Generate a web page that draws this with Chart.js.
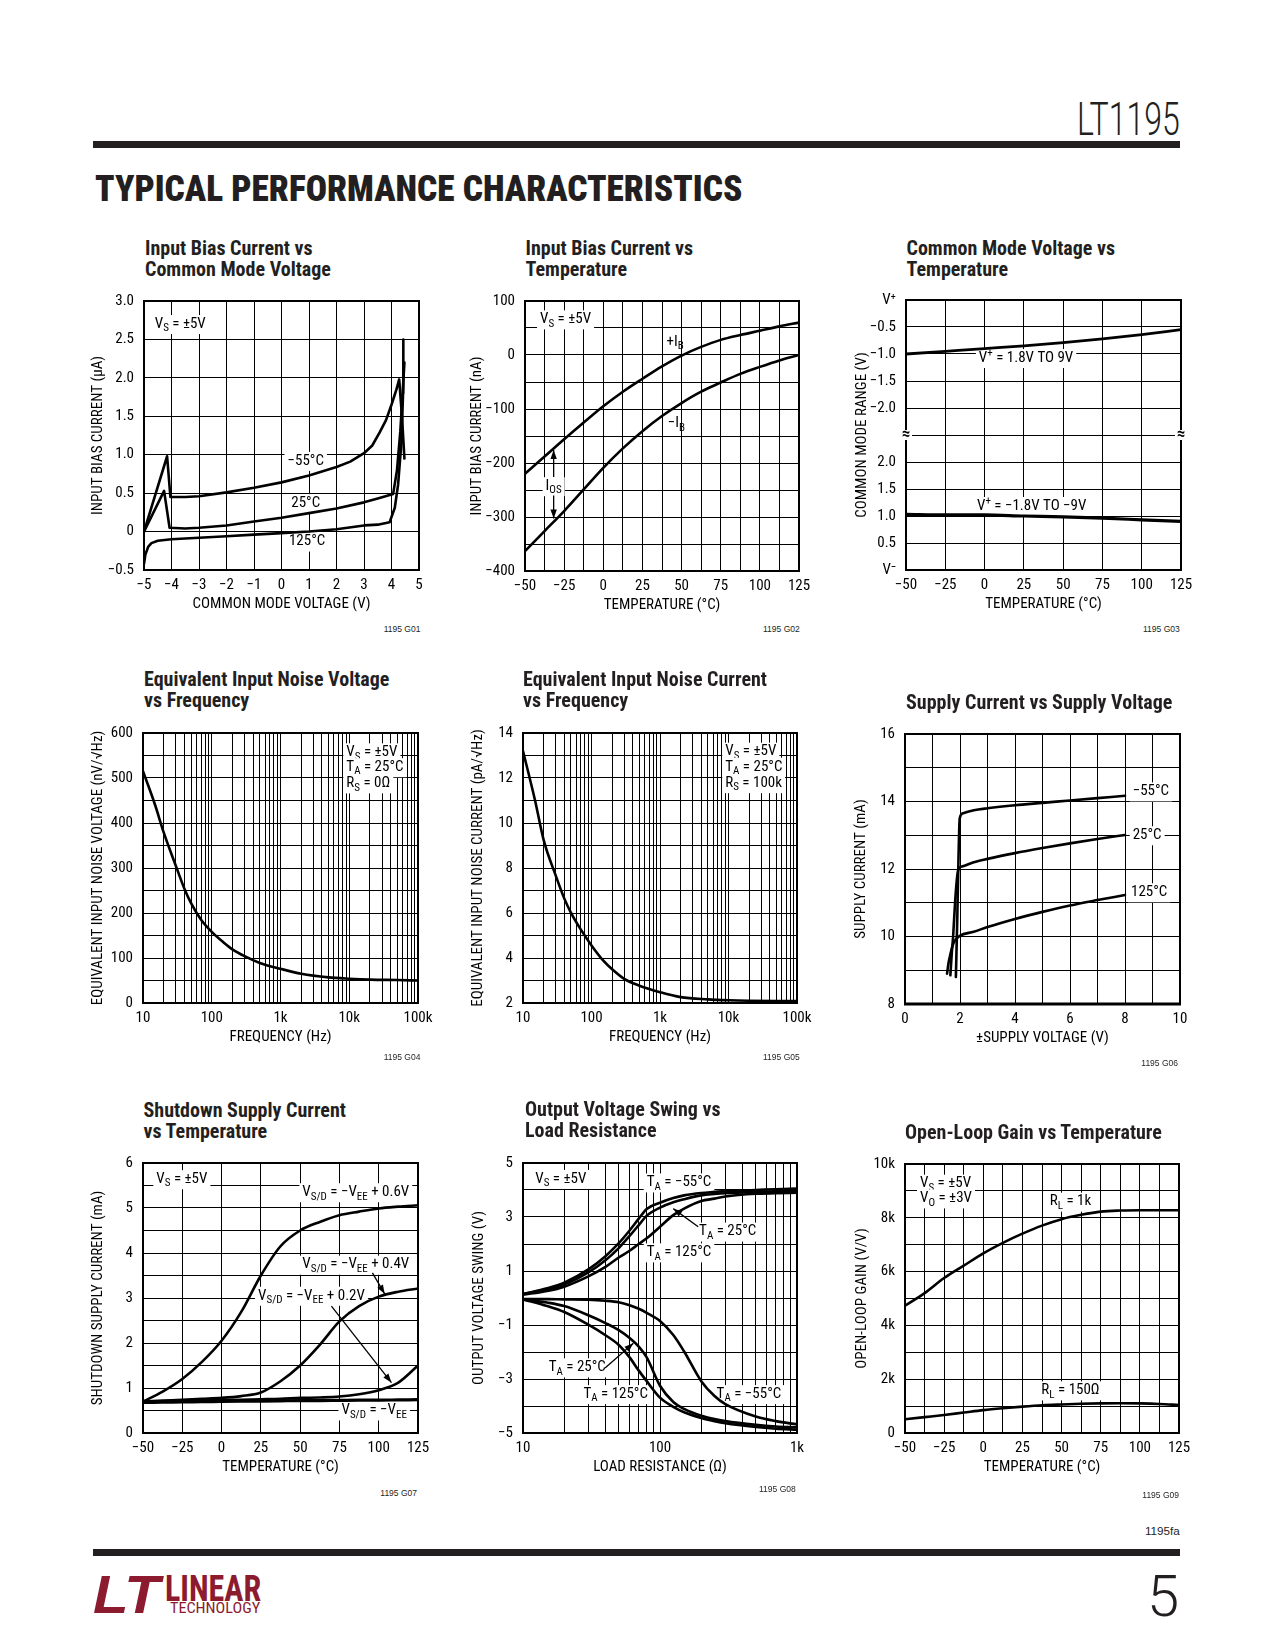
<!DOCTYPE html>
<html><head><meta charset="utf-8">
<script src="https://cdn.jsdelivr.net/npm/chart.js"></script>
<style>
html,body{margin:0;padding:0;background:#fff;}
body{width:1275px;height:1650px;position:relative;overflow:hidden;}
.abs{position:absolute;white-space:pre;color:#231f20;line-height:1;}
canvas{position:absolute;}
</style></head><body>
<script>
// ================= DATA =================
// G01 Input Bias Current vs Common Mode Voltage (x: V, y: uA)
const g01_m55_x = [-5, -4.16, -4.04, -3.5, -3, -2, -1, 0, 1, 2, 2.5, 3, 3.3, 3.57, 3.8, 4.0, 4.18, 4.28, 4.38, 4.47];
const g01_m55_y = [0, 0.98, 0.45, 0.45, 0.46, 0.51, 0.57, 0.64, 0.73, 0.84, 0.91, 1.02, 1.12, 1.29, 1.45, 1.65, 1.85, 1.98, 1.5, 0.95];
const g01_25_x = [-5, -4.27, -4.07, -3.5, -3, -2, -1, 0, 1, 2, 3, 3.5, 4.06, 4.2, 4.32, 4.42, 4.47];
const g01_25_y = [0, 0.53, 0.05, 0.04, 0.05, 0.08, 0.13, 0.18, 0.24, 0.3, 0.38, 0.43, 0.49, 0.8, 1.3, 1.9, 2.2];
const g01_125_x = [-5, -4.95, -4.85, -4.73, -4.5, -4, -3, -2, -1, 0, 1, 2, 3, 3.5, 3.93, 4.12, 4.24, 4.36, 4.42, 4.43];
const g01_125_y = [-0.42, -0.3, -0.2, -0.15, -0.12, -0.1, -0.08, -0.06, -0.04, -0.02, 0.0, 0.03, 0.08, 0.09, 0.12, 0.31, 0.61, 1.16, 1.8, 2.5];

// G02 Input Bias Current vs Temperature (nA)
const g02_T = [-50, -37.5, -25, -12.5, 0, 12.5, 25, 37.5, 50, 62.5, 75, 87.5, 100, 112.5, 125];
const g02_plusIB = [-220, -188, -156, -125, -95, -68, -44, -21, -1, 15, 28, 37, 45, 53, 60];
const g02_minusIB = [-363, -326, -289, -249, -209, -173, -141, -113, -89, -68, -51, -35, -22, -10, 0];

// G03 Common Mode Voltage vs Temperature
const g03_T = [-50, -25, 0, 25, 50, 75, 100, 125];
const g03_upper = [-1.0, -0.95, -0.9, -0.85, -0.79, -0.72, -0.64, -0.55];   // V from V+
const g03_lower = [1.03, 1.02, 1.02, 1.0, 0.985, 0.96, 0.93, 0.9];          // V from V-
const g03_yLabels = ['V\u207B', '0.5', '1.0', '1.5', '2.0', '', '\u22122.0', '\u22121.5', '\u22121.0', '\u22120.5', 'V\u207A'];

// G04 Equivalent Input Noise Voltage vs Frequency
const g04_f = [10, 15, 20, 30, 40, 50, 70, 100, 150, 200, 300, 500, 1000, 2000, 5000, 10000, 20000, 50000, 100000];
const g04_en = [515, 440, 379, 305, 254, 222, 185, 158, 134, 119, 104, 89, 76, 65, 57, 54, 52, 51, 50];

// G05 Equivalent Input Noise Current vs Frequency
const g05_f = [10, 15, 20, 30, 40, 50, 70, 100, 150, 200, 300, 500, 1000, 2000, 5000, 10000, 20000, 50000, 100000];
const g05_in = [13.2, 11.0, 9.25, 7.67, 6.65, 6.02, 5.26, 4.56, 3.87, 3.5, 3.07, 2.77, 2.48, 2.26, 2.16, 2.12, 2.1, 2.09, 2.09];

// G06 Supply Current vs Supply Voltage
const g06_m55_x = [1.85, 1.9, 1.95, 1.99, 2.1, 2.5, 3, 4, 5, 6, 7, 8];
const g06_m55_y = [8.8, 10.5, 12.5, 13.5, 13.65, 13.74, 13.8, 13.89, 13.96, 14.03, 14.1, 14.17];
const g06_25_x = [1.65, 1.7, 1.75, 1.82, 1.9, 1.95, 2.1, 2.5, 3, 4, 5, 6, 7, 8];
const g06_25_y = [8.85, 9.5, 10.0, 11.0, 11.8, 12.0, 12.08, 12.2, 12.3, 12.47, 12.62, 12.76, 12.89, 13.01];
const g06_125_x = [1.53, 1.58, 1.63, 1.72, 1.81, 1.99, 2.5, 3, 4, 5, 6, 7, 8];
const g06_125_y = [8.9, 9.2, 9.4, 9.7, 9.88, 10.02, 10.14, 10.28, 10.52, 10.73, 10.92, 11.08, 11.23];

// G07 Shutdown Supply Current vs Temperature (mA)
const g07_T = [-50, -37.5, -25, -12.5, 0, 12.5, 25, 37.5, 50, 62.5, 75, 87.5, 100, 112.5, 125];
const g07_06V = [0.7, 0.92, 1.2, 1.58, 2.05, 2.69, 3.5, 4.15, 4.5, 4.69, 4.84, 4.92, 4.99, 5.03, 5.06];
const g07_04V = [0.7, 0.72, 0.74, 0.76, 0.78, 0.82, 0.9, 1.15, 1.5, 1.96, 2.48, 2.82, 3.03, 3.14, 3.21];
const g07_02V = [0.69, 0.7, 0.71, 0.72, 0.73, 0.74, 0.75, 0.76, 0.78, 0.79, 0.81, 0.86, 0.95, 1.12, 1.5];
const g07_VEE = [0.68, 0.685, 0.69, 0.695, 0.7, 0.705, 0.71, 0.715, 0.72, 0.72, 0.725, 0.73, 0.73, 0.735, 0.74];

// G08 Output Voltage Swing vs Load Resistance
const g08_R = [10, 15, 20, 30, 40, 50, 60, 70, 80, 100, 125, 150, 200, 250, 300, 500, 700, 1000];
const g08_pos_m55 = [0.15, 0.36, 0.57, 1.06, 1.55, 2.03, 2.5, 2.94, 3.3, 3.53, 3.7, 3.8, 3.89, 3.93, 3.96, 4.0, 4.03, 4.05];
const g08_pos_25 = [0.15, 0.32, 0.5, 0.95, 1.4, 1.85, 2.3, 2.7, 3.05, 3.35, 3.55, 3.66, 3.8, 3.85, 3.88, 3.93, 3.95, 3.97];
const g08_pos_125 = [0.12, 0.26, 0.42, 0.8, 1.15, 1.5, 1.75, 2.0, 2.21, 2.64, 3.07, 3.31, 3.59, 3.68, 3.76, 3.86, 3.88, 3.9];
const g08_neg_m55 = [-0.04, -0.04, -0.05, -0.06, -0.1, -0.16, -0.27, -0.4, -0.55, -0.85, -1.37, -1.98, -3.08, -3.63, -3.93, -4.39, -4.56, -4.68];
const g08_neg_25 = [-0.05, -0.17, -0.3, -0.64, -0.93, -1.19, -1.48, -1.8, -2.2, -3.25, -3.85, -4.11, -4.36, -4.48, -4.56, -4.7, -4.76, -4.79];
const g08_neg_125 = [-0.05, -0.3, -0.52, -0.99, -1.38, -1.74, -2.2, -2.69, -3.08, -3.69, -4.03, -4.23, -4.44, -4.56, -4.64, -4.78, -4.84, -4.88];

// G09 Open-Loop Gain vs Temperature (V/V)
const g09_T = [-50, -37.5, -25, -12.5, 0, 12.5, 25, 37.5, 50, 62.5, 75, 87.5, 100, 112.5, 125];
const g09_RL1k = [4730, 5200, 5760, 6220, 6680, 7070, 7410, 7710, 7950, 8110, 8230, 8270, 8280, 8280, 8280];
const g09_RL150 = [510, 590, 670, 760, 850, 920, 980, 1030, 1060, 1085, 1100, 1105, 1100, 1080, 1040];

// ================= FONTS =================
const mctx = document.createElement('canvas').getContext('2d');
function wOf(fam){ mctx.font = '40px ' + fam; return mctx.measureText('ABCDEFGHIJ abcdefghij 0123456789').width; }
const baseW = wOf('"Liberation Sans"');
let FAM = '"Liberation Sans"', NARROW = false;
for (const c of ['"Liberation Sans Narrow"', '"Arial Narrow"', '"Roboto Condensed"']) {
  if (wOf(c + ', "Liberation Sans"') < 0.9 * baseW) { FAM = c; NARROW = true; break; }
}
const FS = NARROW ? 15 : 12.5;
const SUBFS = NARROW ? 11 : 9.5;

// ================= HELPERS =================
const M = s => String(s).replace('-', '\u2212');
function lin(a, b, s){ const r = []; for (let v = a; v <= b + 1e-9; v += s) r.push(+v.toFixed(6)); return r; }
function logTicks(a, b){ const r = []; for (let d = a; d < b; d *= 10) for (let k = 1; k < 10; k++) r.push(d * k); r.push(b); return r; }
function pts(xs, ys, f){ return xs.map((x, i) => ({x: x, y: f ? f(ys[i]) : ys[i]})); }
function parseRich(s){ const out = []; const re = /([_^])\{([^}]*)\}/g; let last = 0, m;
  while ((m = re.exec(s))) { if (m.index > last) out.push([s.slice(last, m.index)]); out.push([m[2], m[1] === '_' ? 'b' : 'p']); last = re.lastIndex; }
  if (last < s.length) out.push([s.slice(last)]); return out; }
function drawRich(ctx, x, y, segs, align, bg){
  const NF = FS + 'px ' + FAM, SF = SUBFS + 'px ' + FAM;
  let w = 0; segs.forEach(([t, k]) => { ctx.font = k ? SF : NF; w += ctx.measureText(t).width; });
  let x0 = align === 'center' ? x - w / 2 : (align === 'right' ? x - w : x);
  if (bg) { ctx.fillStyle = '#fff'; ctx.fillRect(x0 - 3, y - 9, w + 6, 19); }
  ctx.fillStyle = '#000'; ctx.textBaseline = 'middle'; ctx.textAlign = 'left';
  segs.forEach(([t, k]) => { ctx.font = k ? SF : NF; const dy = k === 'b' ? 4.5 : (k === 'p' ? -5 : 0); ctx.fillText(t, x0, y + dy); x0 += ctx.measureText(t).width; });
}
function arrow(ctx, x1, y1, x2, y2){
  ctx.strokeStyle = '#000'; ctx.fillStyle = '#000'; ctx.lineWidth = 1.3;
  ctx.beginPath(); ctx.moveTo(x1, y1); ctx.lineTo(x2, y2); ctx.stroke();
  const a = Math.atan2(y2 - y1, x2 - x1), L = 9, W = 3.2;
  ctx.beginPath(); ctx.moveTo(x2, y2);
  ctx.lineTo(x2 - L * Math.cos(a) + W * Math.sin(a), y2 - L * Math.sin(a) - W * Math.cos(a));
  ctx.lineTo(x2 - L * Math.cos(a) - W * Math.sin(a), y2 - L * Math.sin(a) + W * Math.cos(a));
  ctx.closePath(); ctx.fill();
}
function txt(str, left, top, css, fitW){
  const d = document.createElement('div'); d.className = 'abs'; d.textContent = str;
  d.style.left = left + 'px'; d.style.top = top + 'px'; Object.assign(d.style, css || {});
  document.body.appendChild(d);
  if (fitW) { d.style.transformOrigin = '0 0'; d.style.transform = 'scaleX(' + (fitW / d.offsetWidth) + ')'; }
  return d;
}

// ================= CHART BUILDER =================
const PL = 80, PT = 15, PR = 32, PB = 52;
function makeChart(spec){
  const {L, T, R, B} = spec.box;
  const W = R - L + PL + PR, H = B - T + PT + PB;
  const cv = document.createElement('canvas');
  cv.width = W; cv.height = H;
  Object.assign(cv.style, {left: (L - PL) + 'px', top: (T - PT) + 'px', width: W + 'px', height: H + 'px'});
  document.body.appendChild(cv);
  const mk = (ax, isX) => ({
    type: ax.type || 'linear', min: ax.min, max: ax.max,
    afterFit: s => { if (isX) s.height = PB; else s.width = PL; },
    afterBuildTicks: s => { s.ticks = ax.grid.map(v => ({value: v})); },
    grid: {color: '#000', lineWidth: 1, drawTicks: false},
    border: {display: false},
    ticks: {autoSkip: false, maxRotation: 0, minRotation: 0, padding: isX ? 6 : 10, color: '#000',
      font: {family: FAM, size: FS}, callback: (v, i, t) => ax.label(t[i].value)},
    title: {display: true, text: ax.title, color: '#000', font: {family: FAM, size: FS},
      padding: isX ? {top: 0, bottom: PB - 34.5 - FS * 0.6} : {top: PL - ax.off - FS * 0.6, bottom: 0}}
  });
  const deco = {
    id: 'deco',
    beforeDatasetsDraw(chart){
      const ctx = chart.ctx, ca = chart.chartArea, xs = chart.scales.x, ys = chart.scales.y;
      ctx.save();
      ctx.strokeStyle = '#000'; ctx.lineWidth = 2;
      ctx.strokeRect(ca.left, ca.top, ca.right - ca.left, ca.bottom - ca.top);
      if (spec.thickBottom) { ctx.lineWidth = 3; ctx.beginPath(); ctx.moveTo(ca.left - 1, ca.bottom); ctx.lineTo(ca.right + 1, ca.bottom); ctx.stroke(); }
      (spec.notes || []).forEach(n => drawRich(ctx, xs.getPixelForValue(n.x), ys.getPixelForValue(n.y), parseRich(n.t), n.align || 'left', n.bg !== false));
      (spec.breaks || []).forEach(v => {
        const y = ys.getPixelForValue(v);
        [ca.left, ca.right].forEach(x => {
          ctx.fillStyle = '#fff'; ctx.fillRect(x - 6, y - 5, 12, 10);
          ctx.fillStyle = '#000'; ctx.font = 'bold ' + (FS + 2) + 'px ' + FAM; ctx.textAlign = 'center'; ctx.textBaseline = 'middle';
          ctx.fillText('\u2248', x, y);
        });
      });
      ctx.restore();
    },
    afterDatasetsDraw(chart){
      const ctx = chart.ctx, xs = chart.scales.x, ys = chart.scales.y;
      ctx.save();
      (spec.arrows || []).forEach(a => arrow(ctx, xs.getPixelForValue(a[0]), ys.getPixelForValue(a[1]), xs.getPixelForValue(a[2]), ys.getPixelForValue(a[3])));
      ctx.restore();
    }
  };
  return new Chart(cv, {
    type: 'line',
    data: {datasets: spec.datasets.map(d => ({data: d.data, borderColor: '#000', borderWidth: d.w || 2.6,
      pointRadius: 0, fill: false, tension: 0, cubicInterpolationMode: spec.sharp ? 'default' : 'monotone', borderCapStyle: 'round', borderJoinStyle: 'round'}))},
    options: {
      responsive: false, animation: false, devicePixelRatio: 1,
      layout: {padding: {left: 0, top: PT, right: PR, bottom: 0}},
      plugins: {legend: {display: false}, tooltip: {enabled: false}},
      scales: {x: mk(spec.x, true), y: mk(spec.y, false)}
    },
    plugins: [deco]
  });
}

const tempLabel = v => (v % 25 === 0 ? M(v) : '');
const decade = {10: '10', 100: '100', 1000: '1k', 10000: '10k', 100000: '100k'};

// G01
makeChart({box: {L: 144, T: 297, R: 419, B: 570}, sharp: true,
  x: {min: -5, max: 5, grid: lin(-5, 5, 1), label: v => M(v), title: 'COMMON MODE VOLTAGE (V)'},
  y: {min: -0.5, max: 3, grid: lin(-0.5, 3, 0.5), label: v => (v === 0 ? '0' : M(v.toFixed(1))), title: 'INPUT BIAS CURRENT (\u00B5A)', off: 46},
  datasets: [{data: pts(g01_m55_x, g01_m55_y)}, {data: pts(g01_25_x, g01_25_y)}, {data: pts(g01_125_x, g01_125_y)}],
  notes: [{x: -4.61, y: 2.7, t: 'V_{S} = \u00B15V'}, {x: 0.88, y: 0.92, t: '\u221255\u00B0C', align: 'center'},
    {x: 0.88, y: 0.37, t: '25\u00B0C', align: 'center'}, {x: 0.93, y: -0.13, t: '125\u00B0C', align: 'center'}]
});

// G02
makeChart({box: {L: 525, T: 297, R: 799, B: 571},
  x: {min: -50, max: 125, grid: lin(-50, 125, 12.5), label: tempLabel, title: 'TEMPERATURE (\u00B0C)'},
  y: {min: -400, max: 100, grid: lin(-400, 100, 50), label: v => (v % 100 === 0 ? M(v) : ''), title: 'INPUT BIAS CURRENT (nA)', off: 48},
  datasets: [{data: pts(g02_T, g02_plusIB)}, {data: pts(g02_T, g02_minusIB)}],
  notes: [{x: -40.4, y: 66, t: 'V_{S} = \u00B15V'}, {x: 40.4, y: 24, t: '+I_{B}', bg: false}, {x: 41.2, y: -127, t: '\u2212I_{B}', bg: false},
    {x: -31.7, y: -243, t: 'I_{OS}', align: 'center'}],
  arrows: [[-31.7, -226, -31.7, -176], [-31.7, -260, -31.7, -303]]
});

// G03
makeChart({box: {L: 906, T: 296, R: 1181, B: 570},
  x: {min: -50, max: 125, grid: lin(-50, 125, 25), label: v => M(v), title: 'TEMPERATURE (\u00B0C)'},
  y: {min: 0, max: 10, grid: lin(0, 10, 1), label: v => g03_yLabels[Math.round(v)], title: 'COMMON MODE RANGE (V)', off: 44},
  datasets: [{data: pts(g03_T, g03_upper, v => 10 + 2 * v), w: 2.8}, {data: pts(g03_T, g03_lower, v => 2 * v), w: 3.2}],
  notes: [{x: 26.4, y: 7.85, t: 'V^{+} = 1.8V TO 9V', align: 'center'}, {x: 30, y: 2.37, t: 'V^{+} = \u22121.8V TO \u22129V', align: 'center'}],
  breaks: [5]
});

// G04
makeChart({box: {L: 143, T: 729, R: 418, B: 1003},
  x: {type: 'logarithmic', min: 10, max: 100000, grid: logTicks(10, 100000), label: v => decade[v] || '', title: 'FREQUENCY (Hz)'},
  y: {min: 0, max: 600, grid: lin(0, 600, 50), label: v => (v % 100 === 0 ? String(v) : ''), title: 'EQUIVALENT INPUT NOISE VOLTAGE (nV/\u221AHz)', off: 45},
  datasets: [{data: pts(g04_f, g04_en)}],
  notes: [{x: 9080, y: 557, t: 'V_{S} = \u00B15V'}, {x: 9080, y: 524, t: 'T_{A} = 25\u00B0C'}, {x: 9080, y: 488, t: 'R_{S} = 0\u03A9'}]
});

// G05
makeChart({box: {L: 523, T: 729, R: 797, B: 1003},
  x: {type: 'logarithmic', min: 10, max: 100000, grid: logTicks(10, 100000), label: v => decade[v] || '', title: 'FREQUENCY (Hz)'},
  y: {min: 2, max: 14, grid: lin(2, 14, 1), label: v => (v % 2 === 0 ? String(v) : ''), title: 'EQUIVALENT INPUT NOISE CURRENT (pA/\u221AHz)', off: 45},
  datasets: [{data: pts(g05_f, g05_in)}],
  notes: [{x: 8970, y: 13.17, t: 'V_{S} = \u00B15V'}, {x: 8970, y: 12.5, t: 'T_{A} = 25\u00B0C'}, {x: 8970, y: 11.77, t: 'R_{S} = 100k'}]
});

// G06
makeChart({box: {L: 905, T: 730, R: 1180, B: 1004}, thickBottom: true,
  x: {min: 0, max: 10, grid: lin(0, 10, 1), label: v => (v % 2 === 0 ? String(v) : ''), title: '\u00B1SUPPLY VOLTAGE (V)'},
  y: {min: 8, max: 16, grid: lin(8, 16, 1), label: v => (v % 2 === 0 ? String(v) : ''), title: 'SUPPLY CURRENT (mA)', off: 44},
  datasets: [{data: pts(g06_m55_x, g06_m55_y)}, {data: pts(g06_25_x, g06_25_y)}, {data: pts(g06_125_x, g06_125_y)}],
  notes: [{x: 8.28, y: 14.3, t: '\u221255\u00B0C'}, {x: 8.28, y: 13.0, t: '25\u00B0C'}, {x: 8.22, y: 11.31, t: '125\u00B0C'}]
});

// G07
makeChart({box: {L: 143, T: 1159, R: 418, B: 1433},
  x: {min: -50, max: 125, grid: lin(-50, 125, 25), label: v => M(v), title: 'TEMPERATURE (\u00B0C)'},
  y: {min: 0, max: 6, grid: lin(0, 6, 0.5), label: v => (Number.isInteger(v) ? String(v) : ''), title: 'SHUTDOWN SUPPLY CURRENT (mA)', off: 45},
  datasets: [{data: pts(g07_T, g07_06V)}, {data: pts(g07_T, g07_04V)}, {data: pts(g07_T, g07_02V)}, {data: pts(g07_T, g07_VEE), w: 3.2}],
  notes: [{x: -41.5, y: 5.64, t: 'V_{S} = \u00B15V'}, {x: 51.4, y: 5.35, t: 'V_{S/D} = \u2212V_{EE} + 0.6V'},
    {x: 51.4, y: 3.74, t: 'V_{S/D} = \u2212V_{EE} + 0.4V'}, {x: 23.2, y: 3.05, t: 'V_{S/D} = \u2212V_{EE} + 0.2V'},
    {x: 76.3, y: 0.5, t: 'V_{S/D} = \u2212V_{EE}'}],
  arrows: [[96, 3.56, 103.8, 3.09], [69.9, 2.82, 108.1, 1.12]]
});

// G08
makeChart({box: {L: 523, T: 1159, R: 797, B: 1433},
  x: {type: 'logarithmic', min: 10, max: 1000, grid: logTicks(10, 1000), label: v => decade[v] || '', title: 'LOAD RESISTANCE (\u03A9)'},
  y: {min: -5, max: 5, grid: lin(-5, 5, 1), label: v => (Math.abs(v) % 2 === 1 ? M(v) : ''), title: 'OUTPUT VOLTAGE SWING (V)', off: 44},
  datasets: [{data: pts(g08_R, g08_pos_m55)}, {data: pts(g08_R, g08_pos_25)}, {data: pts(g08_R, g08_pos_125)},
    {data: pts(g08_R, g08_neg_m55)}, {data: pts(g08_R, g08_neg_25)}, {data: pts(g08_R, g08_neg_125)}],
  notes: [{x: 12.3, y: 4.41, t: 'V_{S} = \u00B15V'}, {x: 80, y: 4.28, t: 'T_{A} = \u221255\u00B0C'},
    {x: 193, y: 2.46, t: 'T_{A} = 25\u00B0C'}, {x: 80, y: 1.69, t: 'T_{A} = 125\u00B0C'},
    {x: 15.4, y: -2.57, t: 'T_{A} = 25\u00B0C'}, {x: 27.6, y: -3.56, t: 'T_{A} = 125\u00B0C'}, {x: 259, y: -3.56, t: 'T_{A} = \u221255\u00B0C'}],
  arrows: [[190, 2.64, 125, 3.31], [39.7, -2.59, 63.9, -1.68]]
});

// G09
makeChart({box: {L: 905, T: 1160, R: 1179, B: 1433},
  x: {min: -50, max: 125, grid: lin(-50, 125, 12.5), label: tempLabel, title: 'TEMPERATURE (\u00B0C)'},
  y: {min: 0, max: 10000, grid: lin(0, 10000, 1000), label: v => (v % 2000 === 0 ? (v === 0 ? '0' : (v / 1000) + 'k') : ''), title: 'OPEN-LOOP GAIN (V/V)', off: 43},
  datasets: [{data: pts(g09_T, g09_RL1k)}, {data: pts(g09_T, g09_RL150)}],
  notes: [{x: -40.4, y: 9268, t: 'V_{S} = \u00B15V'}, {x: -40.4, y: 8720, t: 'V_{O} = \u00B13V'},
    {x: 42.5, y: 8600, t: 'R_{L} = 1k'}, {x: 37.1, y: 1584, t: 'R_{L} = 150\u03A9'}]
});

// ================= PAGE TEXT =================
const TF = NARROW ? 20 : 19.5;
const titleCss = {fontFamily: FAM, fontWeight: '700', fontSize: TF + 'px', lineHeight: '21px', color: '#231f20'};
function title(str, left, capTop){
  const d = txt(str, left, capTop - 3.1, titleCss);
  if (!NARROW) { d.style.transformOrigin = '0 0'; d.style.transform = 'scaleX(0.83)'; }
}
title('Input Bias Current vs\nCommon Mode Voltage', 145, 241);
title('Input Bias Current vs\nTemperature', 525.5, 241);
title('Common Mode Voltage vs\nTemperature', 906.5, 241);
title('Equivalent Input Noise Voltage\nvs Frequency', 144, 671.7);
title('Equivalent Input Noise Current\nvs Frequency', 523, 671.7);
title('Supply Current vs Supply Voltage', 906, 695);
title('Shutdown Supply Current\nvs Temperature', 143.5, 1102.7);
title('Output Voltage Swing vs\nLoad Resistance', 525, 1101.7);
title('Open-Loop Gain vs Temperature', 905, 1125);

const idCss = {fontFamily: '"Liberation Sans", Arial, sans-serif', fontSize: '8.5px', color: '#231f20'};
[['1195 G01', 420.7, 629.5], ['1195 G02', 800, 629.3], ['1195 G03', 1180, 629.3],
 ['1195 G04', 420.7, 1056.7], ['1195 G05', 800, 1057.3], ['1195 G06', 1178.3, 1062.7],
 ['1195 G07', 417.3, 1493.3], ['1195 G08', 796, 1489], ['1195 G09', 1179.3, 1495.3]].forEach(([s, r, y]) => {
  const d = txt(s, 0, y - 0.49 * 8.5, idCss);
  d.style.left = (r - d.offsetWidth) + 'px';
});

// header
const bar1 = document.createElement('div'); Object.assign(bar1.style, {position: 'absolute', left: '93px', top: '141px', width: '1087px', height: '7px', background: '#231f20'}); document.body.appendChild(bar1);
const bar2 = document.createElement('div'); Object.assign(bar2.style, {position: 'absolute', left: '93px', top: '1549px', width: '1087px', height: '7px', background: '#231f20'}); document.body.appendChild(bar2);
txt('LT1195', 1077, 96, {fontFamily: 'Roboto, "Liberation Sans", sans-serif', fontWeight: '300', fontSize: '46px'}, 103);
txt('TYPICAL PERFORMANCE CHARACTERISTICS', 95, 170, {fontFamily: FAM, fontWeight: '900', fontSize: '37.7px'}, 647);
// footer
txt('1195fa', 1145, 1527, {fontFamily: '"Liberation Sans", Arial, sans-serif', fontSize: '10px'}, 35);
txt('5', 1147, 1566.5, {fontFamily: 'Roboto, "Liberation Sans", sans-serif', fontWeight: '300', fontSize: '58px'}, 32);
txt('LT', 93, 1568, {fontFamily: '"Liberation Sans", Arial, sans-serif', fontWeight: '700', fontStyle: 'italic', fontSize: '53px', color: '#8d1b30'}, 67);
txt('LINEAR', 165, 1570, {fontFamily: FAM, fontWeight: '700', fontSize: '37.7px', color: '#8d1b30'}, 96);
txt('TECHNOLOGY', 170, 1601, {fontFamily: FAM, fontSize: '14px', color: '#8d1b30'}, 90);
</script>
</body></html>
